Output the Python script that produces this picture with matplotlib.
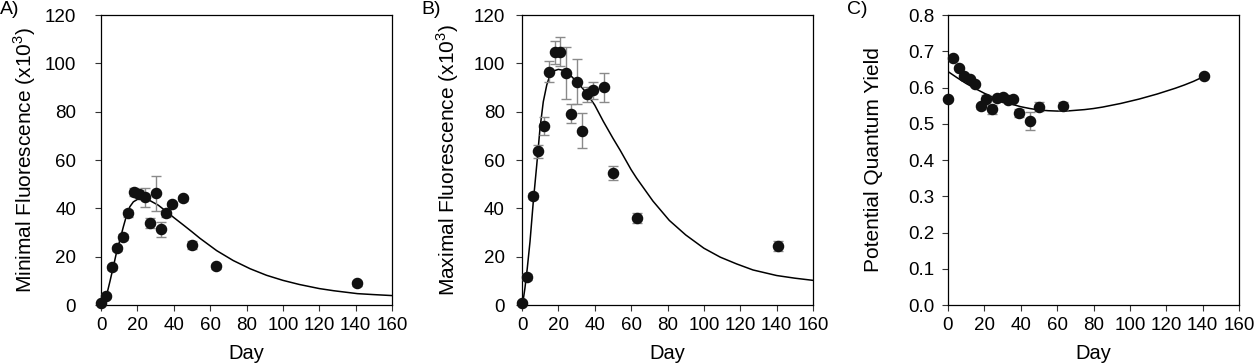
import matplotlib
matplotlib.use("Agg")
import matplotlib.pyplot as plt

plt.rcParams['font.family'] = ['Liberation Sans', 'DejaVu Sans']
plt.rcParams['mathtext.fontset'] = 'custom'
plt.rcParams['mathtext.rm'] = 'Liberation Sans'

# sampling days (same for all three panels)
days = [0, 3, 6, 9, 12, 15, 18, 21, 24, 27, 30, 33, 36, 39, 45, 50, 63, 141]

# A) minimal fluorescence (x10^3)
fo = [0.8, 3.7, 15.6, 23.4, 28.0, 37.9, 46.8, 45.9, 44.5, 33.8, 46.2, 31.3, 37.9, 41.8, 44.1, 24.8, 16.1, 9.0]
fo_err = [0.5, 1.0, 1.0, 1.0, 1.2, 1.6, 1.8, 1.5, 4.1, 2.1, 7.2, 3.1, 1.4, 1.0, 1.2, 1.8, 1.0, 1.0]
fo_fit_day = [0, 0.4, 3.1, 4.9, 6.8, 8.6, 10.4, 12.3, 14.1, 15.9, 17.8, 20.5, 23.3, 26.9, 31.5, 36.1,
              40, 45.3, 50, 54.4, 63.6, 72.7, 82, 91, 100, 109, 120, 128, 141, 150, 160]
fo_fit = [0, 0.3, 4.1, 9.7, 15.9, 22.0, 26.9, 32.4, 37.2, 40.7, 42.7, 43.9, 44.1, 43.2, 41.3, 38.6,
          36.2, 33.1, 30.3, 27.6, 22.5, 18.4, 15.0, 12.3, 10.2, 8.5, 6.8, 5.9, 4.7, 4.3, 3.9]

# B) maximal fluorescence (x10^3)
fm = [1.0, 11.7, 45.2, 63.7, 74.1, 96.6, 104.5, 104.8, 95.9, 79.2, 92.4, 72.1, 87.2, 88.8, 90.1, 54.6, 35.9, 24.4]
fm_err = [0.5, 1.2, 1.2, 2.7, 3.6, 4.5, 4.6, 6.0, 10.7, 4.0, 9.2, 7.2, 3.1, 3.4, 5.9, 2.8, 2.1, 2.0]
fm_fit_day = [0, 0.4, 1.6, 2.9, 4.4, 6.2, 8.1, 9.9, 11.7, 13.6, 15.4, 17.2, 20, 22.7, 26.4, 31, 35.6,
              40, 44.7, 50, 54, 60, 63, 72, 81, 90, 100, 109, 118, 127, 140, 150, 160]
fm_fit = [0, 0.7, 6.9, 15.2, 26.2, 42.7, 57.9, 73.1, 84.1, 91.0, 95.2, 96.8, 97.5, 97.1, 95.2, 91.7, 87.6,
          82.7, 76.0, 69.0, 64.0, 56.0, 52.5, 43.0, 35.0, 29.0, 23.5, 19.8, 17.0, 14.5, 12.2, 11.1, 10.2]

# C) potential quantum yield
fvfm = [0.568, 0.681, 0.655, 0.632, 0.624, 0.609, 0.548, 0.569, 0.540, 0.570, 0.575, 0.566, 0.567, 0.529, 0.508, 0.547, 0.549, 0.633]
fvfm_err = [0.004, 0.004, 0.004, 0.004, 0.004, 0.004, 0.006, 0.009, 0.013, 0.006, 0.005, 0.005, 0.005, 0.011, 0.025, 0.012, 0.010, 0.005]
fvfm_fit_day = [0, 5, 10, 15, 20, 25, 30, 35, 40, 45, 50, 55, 60, 65, 70, 75, 80, 85, 90, 95,
                100, 105, 110, 115, 120, 125, 130, 135, 141]
fvfm_fit = [0.644, 0.627, 0.611, 0.597, 0.584, 0.572, 0.562, 0.554, 0.547, 0.542, 0.538, 0.536, 0.535,
            0.535, 0.537, 0.539, 0.542, 0.546, 0.551, 0.556, 0.562, 0.568, 0.575, 0.582, 0.590, 0.598,
            0.607, 0.617, 0.631]

panels = [
    ("A)", fo, fo_err, fo_fit_day, fo_fit, "Minimal Fluorescence (x10$^{3}$)", (0, 120), range(0, 121, 20), "%d", 14, -0.215),
    ("B)", fm, fm_err, fm_fit_day, fm_fit, "Maximal Fluorescence (x10$^{3}$)", (0, 120), range(0, 121, 20), "%d", 8.5, -0.21),
    ("C)", fvfm, fvfm_err, fvfm_fit_day, fvfm_fit, "Potential Quantum Yield", (0, 0.8), [i / 10 for i in range(9)], "%.1f", 6, -0.222),
]

fig = plt.figure(figsize=(12.55, 3.63), dpi=100)
lefts = [101, 522, 948]

for (tag, y, yerr, fd, fv, ylab, ylim, yticks, fmt, pad, lx), left in zip(panels, lefts):
    ax = fig.add_axes([left / 1255, 58 / 363, 291 / 1255, 290 / 363])
    ax.plot(fd, fv, color='black', lw=1.1, zorder=2)
    ax.errorbar(days, y, yerr=yerr, fmt='none', ecolor='#8a8a8a', elinewidth=1,
                capsize=3.5, capthick=1, zorder=3, clip_on=False)
    ax.plot(days, y, 'o', color='#111111', ms=7.3, zorder=4, clip_on=False)
    ax.set_xlim(0, 160)
    ax.set_ylim(*ylim)
    ax.set_xticks(range(0, 161, 20))
    ax.set_yticks(list(yticks))
    ax.yaxis.set_major_formatter(matplotlib.ticker.FormatStrFormatter(fmt))
    ax.tick_params(direction='out', length=4, width=0.8, labelsize=13.5, color='#333333')
    ax.tick_params(axis='y', pad=pad)
    ax.tick_params(axis='x', pad=5)
    for s in ax.spines.values():
        s.set_linewidth(0.9)
    ax.set_xlabel("Day", fontsize=14.5)
    ax.set_ylabel(ylab, fontsize=15)
    ax.xaxis.set_label_coords(0.5, -0.135)
    ax.yaxis.set_label_coords(lx, 0.5)
    fig.text((left - 101) / 1255, 1 - 1 / 363, tag, fontsize=14, va='top', ha='left')

fig.savefig("out.png", dpi=100)
